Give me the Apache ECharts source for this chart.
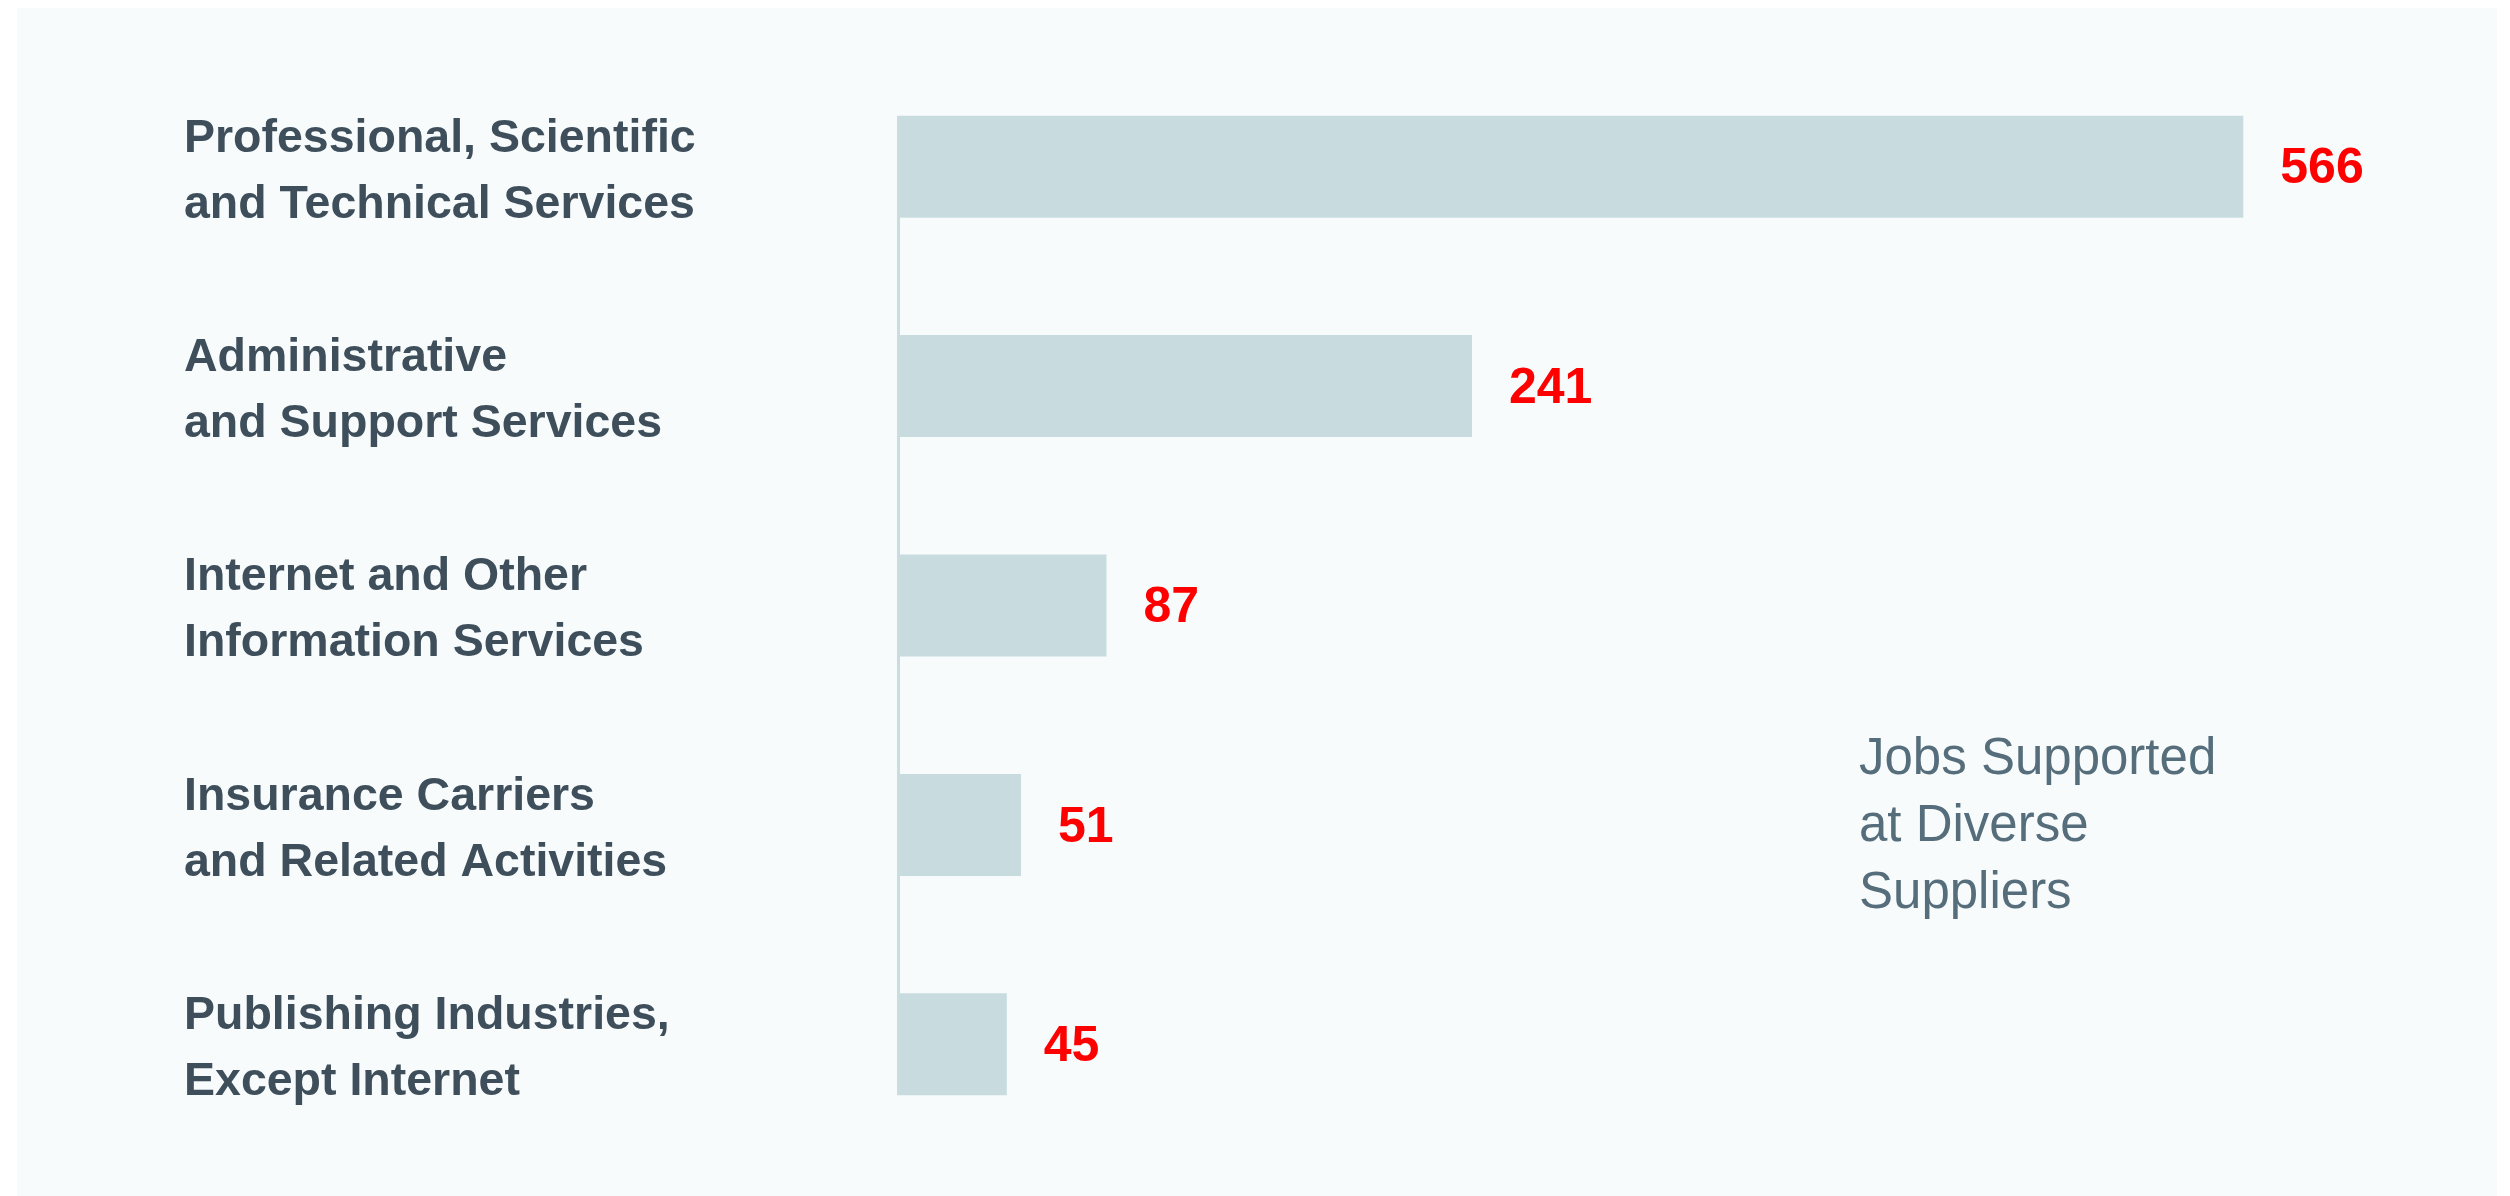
<!DOCTYPE html>
<html>
<head>
<meta charset="utf-8">
<script src="https://cdn.jsdelivr.net/npm/echarts@6/dist/echarts.min.js"></script>
<style>
  html, body { margin: 0; padding: 0; background: #ffffff; }
  #panel { position: absolute; left: 17px; top: 8px; width: 2480px; height: 1188px; background: #f7fbfc; }
  #chart { position: absolute; left: 0; top: 0; width: 2510px; height: 1196px; }
</style>
</head>
<body>
<div id="panel"></div>
<div id="chart"></div>
<script>
const categories = [
  'Professional, Scientific\nand Technical Services',
  'Administrative\nand Support Services',
  'Internet and Other\nInformation Services',
  'Insurance Carriers\nand Related Activities',
  'Publishing Industries,\nExcept Internet'
];
const values = [566, 241, 87, 51, 45];
const seriesName = 'Jobs Supported\nat Diverse\nSuppliers';

const FONT = '"Liberation Sans", Arial, Helvetica, sans-serif';
const BAR_W = 102;

const chart = echarts.init(document.getElementById('chart'), null, { renderer: 'canvas' });
chart.setOption({
  backgroundColor: 'transparent',
  animation: false,
  title: {
    text: seriesName,
    left: 1859,
    top: 726,
    padding: 0,
    textStyle: { fontFamily: FONT, fontSize: 51, fontWeight: 'normal', color: '#566e7b', lineHeight: 67 }
  },
  grid: { left: 900, right: 186, top: 57, bottom: 42, containLabel: false },
  xAxis: {
    type: 'value', min: 0, max: 600,
    show: false
  },
  yAxis: {
    type: 'category',
    data: categories,
    inverse: true,
    axisLine: { show: false },
    axisTick: { show: false },
    splitLine: { show: false },
    axisLabel: {
      align: 'left',
      margin: 716,
      formatter: function (v) {
        return '{s| }\n' + v.split('\n').map(function (l) { return '{a|' + l + '}'; }).join('\n');
      },
      rich: {
        s: { fontSize: 1, lineHeight: 10 },
        a: {
          fontFamily: FONT,
          fontSize: 46.5,
          fontWeight: 'bold',
          lineHeight: 66,
          color: '#3e4f5b',
          align: 'left'
        }
      }
    }
  },
  series: [
    {
      type: 'custom',
      silent: true,
      z: 1,
      data: [[0, 0]],
      renderItem: function (params, api) {
        const top = api.coord([0, 0]);
        const bot = api.coord([0, categories.length - 1]);
        return {
          type: 'line',
          shape: { x1: top[0] - 1.5, y1: top[1] - BAR_W / 2, x2: bot[0] - 1.5, y2: bot[1] + BAR_W / 2 },
          style: { stroke: '#c9dcdf', lineWidth: 3 }
        };
      }
    },
    {
      type: 'bar',
      name: seriesName,
      data: values,
      barWidth: BAR_W,
      z: 2,
      itemStyle: { color: '#c8dce0' },
      label: {
        show: true,
        position: 'right',
        distance: 37,
        offset: [0, 3],
        fontFamily: FONT,
        fontSize: 50,
        fontWeight: 'bold',
        color: '#ff0000'
      }
    }
  ]
});
</script>
</body>
</html>
